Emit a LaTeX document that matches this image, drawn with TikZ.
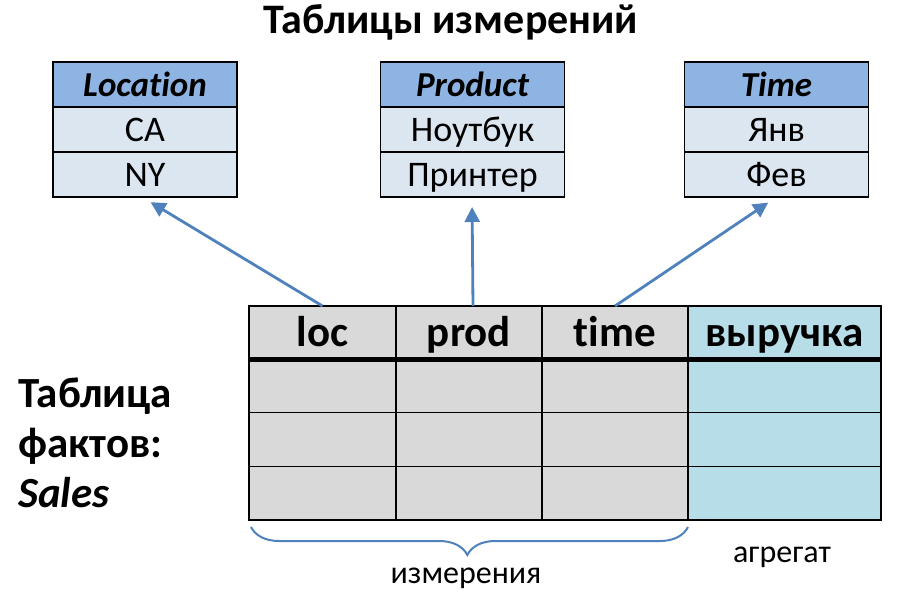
\documentclass[tikz,border=0pt]{standalone}
\usepackage{fontspec}
\setmainfont[Ligatures=NoCommon]{Carlito}
\usetikzlibrary{arrows.meta,decorations.pathreplacing}
\definecolor{hdrblue}{HTML}{8DB4E2}
\definecolor{rowblue}{HTML}{DCE6F1}
\definecolor{factgray}{HTML}{D9D9D9}
\definecolor{aggblue}{HTML}{B7DEE8}
\definecolor{arrowblue}{HTML}{4F81BD}
\begin{document}
\begin{tikzpicture}[x=1pt,y=-1pt,
  dimbase/.style={draw, line width=1.5pt, minimum width=184pt, minimum height=45pt, inner sep=0pt, outer sep=0pt, anchor=north west},
  dimhdr/.style={dimbase, fill=hdrblue, text height=29pt, text depth=4pt, font=\fontsize{35}{40}\selectfont\bfseries\itshape},
  dimrow/.style={dimbase, fill=rowblue, text height=29pt, text depth=4pt, font=\fontsize{36}{40}\selectfont},
  facthdr/.style={draw, line width=1.5pt, fill=factgray, minimum height=53pt, inner sep=0pt, outer sep=0pt, anchor=north west, text height=34pt, text depth=7pt, font=\fontsize{43}{48}\selectfont\bfseries},
  factcell/.style={draw, line width=1.5pt, fill=factgray, minimum height=53.7pt, inner sep=0pt, outer sep=0pt, anchor=north west},
  link/.style={draw=arrowblue, line width=2.8pt, -{Triangle[length=15pt,width=15pt]}, shorten >=10pt},
  lbl/.style={inner sep=0pt, anchor=base, font=\fontsize{32}{36}\selectfont},
  side/.style={inner sep=0pt, anchor=base west, font=\fontsize{43}{50}\selectfont\bfseries}
]
\useasboundingbox (0,0) rectangle (902,596);

% title
\node[inner sep=0pt, anchor=base, font=\fontsize{42}{48}\selectfont\bfseries] (title) at (451,34) {Таблицы измерений};

% dimension tables
\node[dimhdr] (loch) at (53,62) {Location};
\node[dimrow] (loc1) at (53,107) {CA};
\node[dimrow] (loc2) at (53,152) {NY};

\node[dimhdr] (prodh) at (380.5,62) {Product};
\node[dimrow] (prod1) at (380.5,107) {Ноутбук};
\node[dimrow] (prod2) at (380.5,152) {Принтер};

\node[dimhdr] (timeh) at (684.5,62) {Time};
\node[dimrow] (time1) at (684.5,107) {Янв};
\node[dimrow] (time2) at (684.5,152) {Фев};

% fact table header
\node[facthdr, minimum width=147pt] (fh1) at (249,306) {loc};
\node[facthdr, minimum width=146pt] (fh2) at (396,306) {prod};
\node[facthdr, minimum width=146pt] (fh3) at (542,306) {time};
\node[facthdr, minimum width=193pt, fill=aggblue] (fh4) at (688,306) {выручка};

% fact rows
\foreach \r/\y in {1/359,2/412.7,3/466.4}{
  \node[factcell, minimum width=147pt] (f\r a) at (249,\y) {};
  \node[factcell, minimum width=146pt] (f\r b) at (396,\y) {};
  \node[factcell, minimum width=146pt] (f\r c) at (542,\y) {};
  \node[factcell, minimum width=193pt, fill=aggblue] (f\r d) at (688,\y) {};
}
\draw[line width=5pt] (f1a.north west) -- (f1d.north east);
\draw[line width=2pt] (fh1.north west) rectangle (f3d.south east);

% arrows
\draw[link] (fh1.north) -- ([xshift=-3pt]loc2.south);
\draw[link] ([xshift=4pt]fh2.north) -- ([xshift=-0.5pt]prod2.south);
\draw[link] (fh3.north) -- (time2.south);

% left label
\node[side] (side1) at (18,407) {Таблица};
\node[side] (side2) at (18,457) {фактов:};
\node[side] (side3) at (18,507) {\textit{Sales}};

% brace
\coordinate (bl) at (251,527);
\coordinate (br) at (688,527);
\draw[arrowblue, line width=2pt, decorate, decoration={brace, mirror, amplitude=28pt, aspect=0.495}] (bl) -- (br);
\node[lbl] (dimlabel) at (466,583) {измерения};
\node[lbl] (agglabel) at (782,562) {агрегат};
\end{tikzpicture}
\end{document}
